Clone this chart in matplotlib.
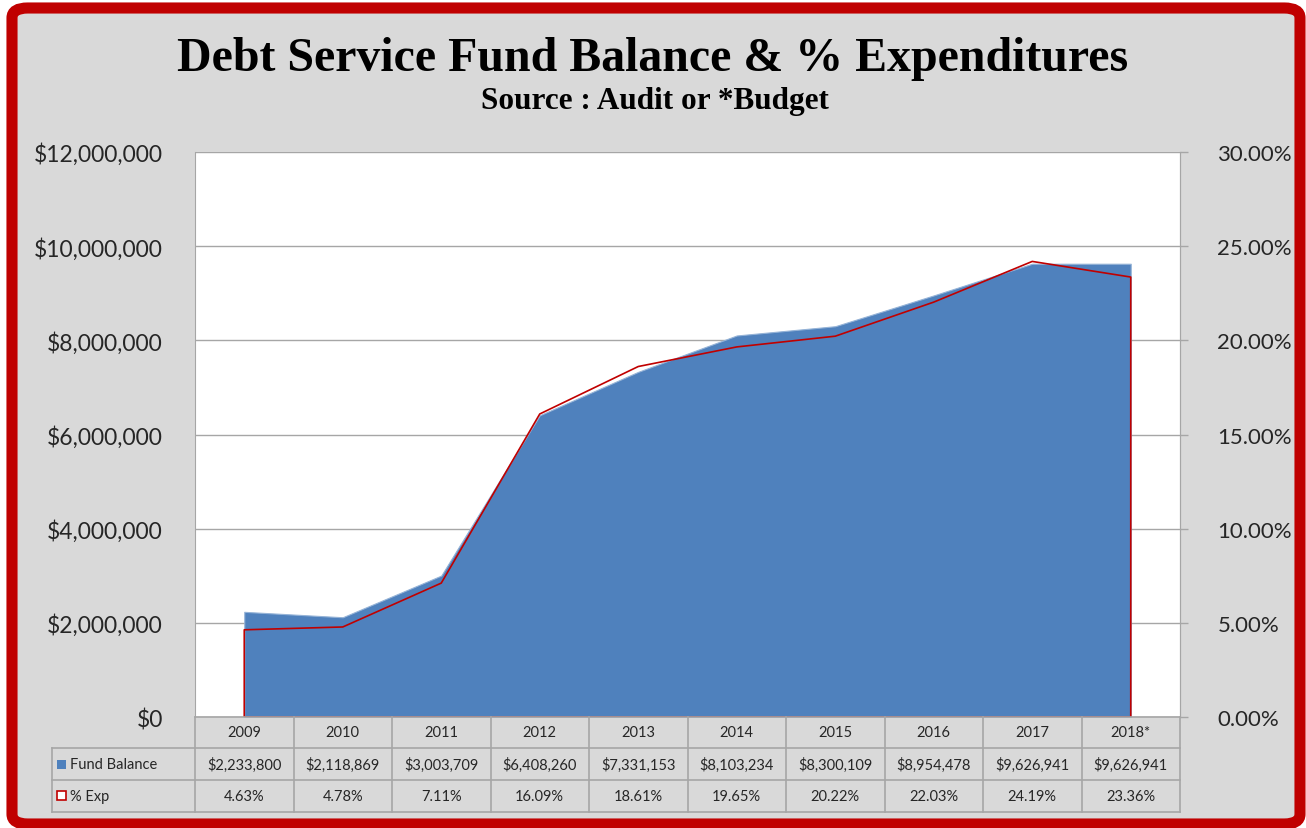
import matplotlib.pyplot as plt
from matplotlib.patches import FancyBboxPatch, Rectangle
from matplotlib.lines import Line2D
from matplotlib.ticker import FuncFormatter, MultipleLocator

years = ['2009', '2010', '2011', '2012', '2013', '2014', '2015', '2016', '2017', '2018*']
fund_balance = [2233800, 2118869, 3003709, 6408260, 7331153, 8103234,
                8300109, 8954478, 9626941, 9626941]
pct_exp = [4.63, 4.78, 7.11, 16.09, 18.61, 19.65, 20.22, 22.03, 24.19, 23.36]

W, H = 1306, 829
BG = '#D9D9D9'
RED = '#C00000'
BLUE = '#4F81BD'
GRID = '#A6A6A6'
TXT = '#262626'
SANS = ['Lato', 'DejaVu Sans']
SERIF = ['Liberation Serif', 'DejaVu Serif']

fig = plt.figure(figsize=(W / 100, H / 100), dpi=100)
fig.patch.set_facecolor('white')


def fx(px):
    return px / W


def fy(py):
    return 1 - py / H


# grey chart area with the thick red rounded frame
frame = FancyBboxPatch((fx(12), fy(825)), fx(1300 - 12), (825 - 9) / H,
                       boxstyle='round,pad=0,rounding_size=0.012',
                       transform=fig.transFigure, facecolor=BG,
                       edgecolor=RED, linewidth=8, zorder=-5)
fig.patches.append(frame)

fig.text(0.5, fy(59), 'Debt Service Fund Balance & % Expenditures',
         ha='center', va='center', fontsize=34.5, fontweight='bold',
         family=SERIF, color='black')
fig.text(fx(655), fy(101), 'Source : Audit or *Budget', ha='center', va='center',
         fontsize=22.5, fontweight='bold', family=SERIF, color='black')

left, right, top, bottom = 195, 1180, 153, 718
ax = fig.add_axes([fx(left), fy(bottom), fx(right - left), (bottom - top) / H])
ax.set_facecolor('white')
x = list(range(len(years)))

ax.fill_between(x, fund_balance, color=BLUE, linewidth=0.8, edgecolor='#95B3D7', zorder=2)
ax.set_xlim(-0.5, len(years) - 0.5)
ax.set_ylim(0, 12000000)
ax.yaxis.set_major_locator(MultipleLocator(2000000))
ax.yaxis.set_major_formatter(FuncFormatter(lambda v, p: '$0' if v == 0 else f'${v:,.0f}'))
ax.grid(axis='y', color=GRID, linewidth=1)
ax.set_axisbelow(True)
ax.set_xticks([])
ax.tick_params(axis='y', length=0, pad=23, labelsize=16.5, labelcolor=TXT)
for lbl in ax.get_yticklabels():
    lbl.set_family(SANS)
for side in ['top', 'bottom']:
    ax.spines[side].set_visible(False)
ax.spines['left'].set_color(GRID)
ax.spines['right'].set_color(GRID)

ax2 = ax.twinx()
ax2.fill_between(x, pct_exp, facecolor='none', edgecolor=RED, linewidth=1.2, zorder=3)
ax2.set_ylim(0, 30)
ax2.yaxis.set_major_locator(MultipleLocator(5))
ax2.yaxis.set_major_formatter(FuncFormatter(lambda v, p: f'{v:.2f}%'))
ax2.tick_params(axis='y', length=6, width=1, color=GRID, direction='out', pad=21,
                labelsize=16, labelcolor=TXT)
for lbl in ax2.get_yticklabels():
    lbl.set_family(SANS)
for side in ['top', 'bottom', 'left']:
    ax2.spines[side].set_visible(False)
ax2.spines['right'].set_color(GRID)

# data table under the plot
rows = [718, 749, 781, 813]
col_w = (right - left) / len(years)
key_left = 52


def hline(x0, x1, y):
    fig.add_artist(Line2D([fx(x0), fx(x1)], [fy(y), fy(y)], color=GRID, linewidth=1.2,
                          transform=fig.transFigure))


def vline(xp, y0, y1):
    fig.add_artist(Line2D([fx(xp), fx(xp)], [fy(y0), fy(y1)], color=GRID, linewidth=1.2,
                          transform=fig.transFigure))


hline(left, right, rows[0])
for y in rows[1:]:
    hline(key_left, right, y)
vline(key_left, rows[1], rows[3])
for i in range(len(years) + 1):
    vline(left + i * col_w, rows[0], rows[3])

row_mid = [(rows[i] + rows[i + 1]) / 2 for i in range(3)]
for i, yr in enumerate(years):
    cx = fx(left + (i + 0.5) * col_w)
    fig.text(cx, fy(row_mid[0]), yr, ha='center', va='center', fontsize=10.5,
             family=SANS, color=TXT)
    fig.text(cx, fy(row_mid[1]), f'${fund_balance[i]:,.0f}', ha='center', va='center',
             fontsize=10.5, family=SANS, color=TXT)
    fig.text(cx, fy(row_mid[2]), f'{pct_exp[i]:.2f}%', ha='center', va='center',
             fontsize=10.5, family=SANS, color=TXT)

fig.add_artist(Rectangle((fx(57), fy(770)), fx(9), 9 / H, facecolor=BLUE,
                         edgecolor='none', transform=fig.transFigure))
fig.add_artist(Rectangle((fx(57), fy(801)), fx(9), 9 / H, facecolor='white',
                         edgecolor=RED, linewidth=1.2, transform=fig.transFigure))
fig.text(fx(70), fy(row_mid[1]), 'Fund Balance', ha='left', va='center', fontsize=10.5,
         family=SANS, color=TXT)
fig.text(fx(70), fy(row_mid[2]), '% Exp', ha='left', va='center', fontsize=10.5,
         family=SANS, color=TXT)

fig.savefig('out.png', dpi=100, facecolor=fig.get_facecolor())
